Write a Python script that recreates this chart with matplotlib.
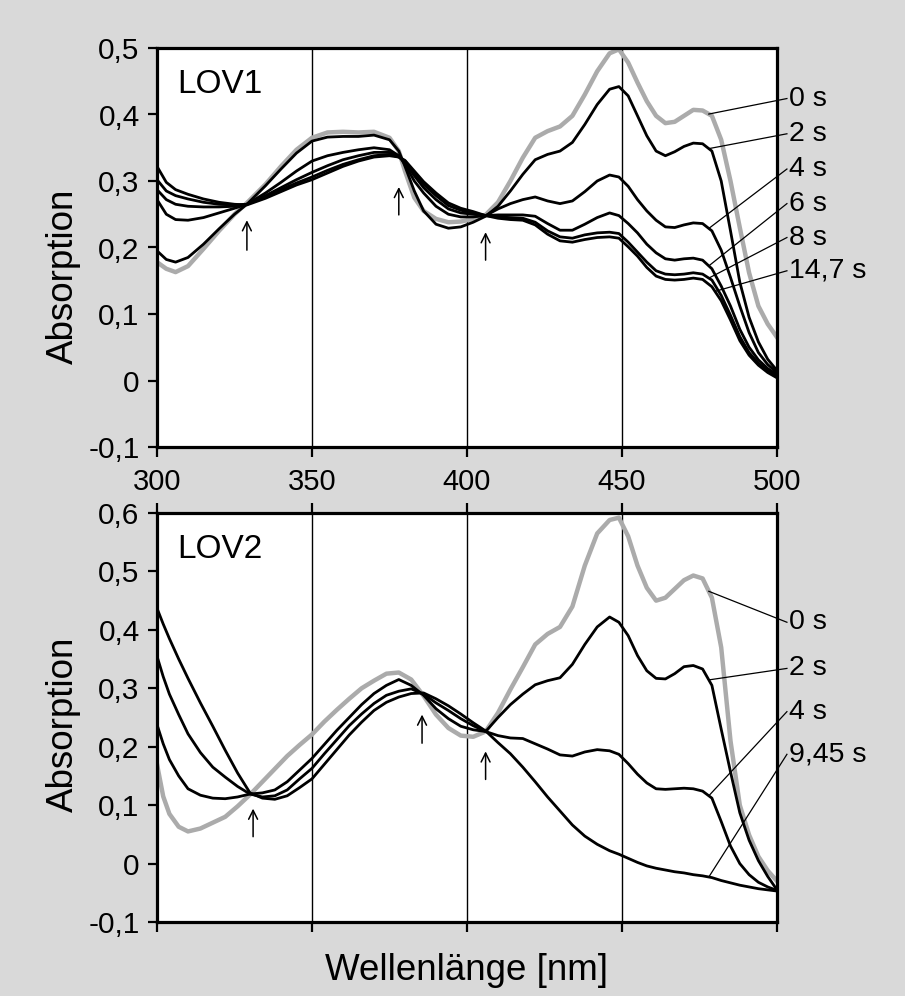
import matplotlib.pyplot as plt
import numpy as np

plt.rcParams['font.family'] = ['Liberation Sans', 'DejaVu Sans']

# ---------- LOV1 (oben) ----------
wl1 = [300, 303, 306, 310, 315, 320, 325, 329, 335, 340, 345, 350, 355, 360, 365,
       370, 375, 378, 380, 383, 386, 390, 394, 398, 402, 406, 410, 414, 418, 422,
       426, 430, 434, 438, 442, 446, 449, 452, 455, 458, 461, 464, 467, 470, 473,
       476, 479, 482, 485, 488, 491, 494, 497, 500]

lov1_0s = [0.178, 0.168, 0.163, 0.172, 0.198, 0.225, 0.250, 0.267, 0.295, 0.322,
           0.347, 0.365, 0.373, 0.374, 0.373, 0.374, 0.365, 0.345, 0.315, 0.275,
           0.255, 0.243, 0.238, 0.239, 0.243, 0.249, 0.268, 0.300, 0.335, 0.365,
           0.375, 0.382, 0.398, 0.430, 0.465, 0.492, 0.498, 0.478, 0.448, 0.420,
           0.398, 0.387, 0.389, 0.398, 0.407, 0.406, 0.398, 0.362, 0.300, 0.230,
           0.162, 0.112, 0.085, 0.065]
lov1_2s = [0.195, 0.182, 0.178, 0.185, 0.205, 0.228, 0.250, 0.265, 0.293, 0.318,
           0.342, 0.360, 0.366, 0.367, 0.367, 0.369, 0.362, 0.345, 0.322, 0.285,
           0.255, 0.235, 0.229, 0.231, 0.238, 0.247, 0.262, 0.285, 0.310, 0.332,
           0.340, 0.345, 0.358, 0.385, 0.415, 0.438, 0.442, 0.428, 0.398, 0.368,
           0.345, 0.338, 0.344, 0.352, 0.357, 0.356, 0.345, 0.300, 0.225, 0.148,
           0.095, 0.058, 0.032, 0.015]
lov1_4s = [0.272, 0.250, 0.242, 0.241, 0.245, 0.252, 0.259, 0.265, 0.282, 0.298,
           0.315, 0.330, 0.338, 0.343, 0.347, 0.350, 0.347, 0.338, 0.325, 0.300,
           0.282, 0.262, 0.250, 0.246, 0.246, 0.248, 0.258, 0.266, 0.272, 0.276,
           0.270, 0.266, 0.270, 0.284, 0.300, 0.309, 0.306, 0.292, 0.272, 0.255,
           0.241, 0.231, 0.230, 0.234, 0.237, 0.236, 0.225, 0.196, 0.155, 0.112,
           0.072, 0.042, 0.024, 0.012]
lov1_6s = [0.287, 0.272, 0.265, 0.262, 0.261, 0.261, 0.262, 0.265, 0.278, 0.290,
           0.302, 0.313, 0.323, 0.332, 0.338, 0.343, 0.343, 0.337, 0.328, 0.308,
           0.290, 0.272, 0.258, 0.252, 0.250, 0.248, 0.249, 0.249, 0.249, 0.247,
           0.236, 0.226, 0.226, 0.235, 0.245, 0.252, 0.248, 0.236, 0.222, 0.205,
           0.192, 0.183, 0.181, 0.183, 0.184, 0.181, 0.168, 0.142, 0.112, 0.077,
           0.050, 0.031, 0.018, 0.009]
lov1_8s = [0.302, 0.285, 0.278, 0.273, 0.268, 0.265, 0.264, 0.265, 0.276, 0.287,
           0.297, 0.306, 0.316, 0.325, 0.332, 0.338, 0.340, 0.336, 0.330, 0.312,
           0.295, 0.278, 0.263, 0.256, 0.252, 0.248, 0.246, 0.245, 0.244, 0.238,
           0.225, 0.216, 0.214, 0.219, 0.222, 0.223, 0.221, 0.208, 0.193, 0.178,
           0.165, 0.160, 0.159, 0.160, 0.162, 0.160, 0.151, 0.128, 0.098, 0.066,
           0.042, 0.026, 0.015, 0.007]
lov1_14s = [0.322, 0.298, 0.287, 0.280, 0.273, 0.268, 0.265, 0.264, 0.274, 0.284,
            0.294, 0.302, 0.312, 0.322, 0.330, 0.336, 0.338, 0.336, 0.331, 0.315,
            0.299, 0.282, 0.267, 0.259, 0.254, 0.248, 0.244, 0.242, 0.241, 0.234,
            0.220, 0.210, 0.208, 0.212, 0.215, 0.216, 0.214, 0.201, 0.187, 0.170,
            0.157, 0.152, 0.151, 0.152, 0.154, 0.152, 0.141, 0.120, 0.091, 0.060,
            0.038, 0.023, 0.012, 0.004]

lov1_series = [lov1_0s, lov1_2s, lov1_4s, lov1_6s, lov1_8s, lov1_14s]
lov1_labels = ['0 s', '2 s', '4 s', '6 s', '8 s', '14,7 s']
lov1_label_y = [0.424, 0.371, 0.318, 0.266, 0.215, 0.165]
lov1_leader_x = [478, 478, 478, 478, 478, 480]
lov1_arrows = [(329, 0.196, 0.241), (378, 0.249, 0.291), (406, 0.181, 0.223)]

# ---------- LOV2 (unten) ----------
wl2 = [300, 302, 304, 307, 310, 314, 318, 322, 326, 330, 334, 338, 342, 346, 350,
       354, 358, 362, 366, 370, 374, 378, 382, 386, 390, 394, 398, 402, 406, 410,
       414, 418, 422, 426, 430, 434, 438, 442, 446, 449, 452, 455, 458, 461, 464,
       467, 470, 473, 476, 479, 482, 485, 488, 491, 494, 497, 500]

lov2_0s = [0.170, 0.115, 0.085, 0.063, 0.055, 0.060, 0.070, 0.080, 0.098, 0.118,
           0.140, 0.162, 0.184, 0.203, 0.221, 0.243, 0.263, 0.282, 0.300, 0.313,
           0.325, 0.327, 0.315, 0.287, 0.255, 0.232, 0.219, 0.217, 0.226, 0.258,
           0.298, 0.336, 0.375, 0.393, 0.405, 0.440, 0.510, 0.565, 0.588, 0.592,
           0.560, 0.510, 0.472, 0.450, 0.455, 0.470, 0.485, 0.493, 0.488, 0.455,
           0.370, 0.210, 0.100, 0.049, 0.012, -0.012, -0.030]
lov2_2s = [0.238, 0.205, 0.178, 0.150, 0.128, 0.117, 0.112, 0.111, 0.114, 0.119,
           0.121, 0.126, 0.140, 0.160, 0.180, 0.204, 0.228, 0.250, 0.272, 0.291,
           0.305, 0.315, 0.305, 0.288, 0.265, 0.248, 0.235, 0.229, 0.226, 0.250,
           0.272, 0.290, 0.306, 0.313, 0.318, 0.341, 0.375, 0.405, 0.422, 0.413,
           0.390, 0.356, 0.330, 0.317, 0.316, 0.325, 0.337, 0.339, 0.333, 0.305,
           0.230, 0.157, 0.087, 0.040, 0.005, -0.022, -0.045]
lov2_4s = [0.355, 0.320, 0.290, 0.255, 0.222, 0.190, 0.165, 0.148, 0.132, 0.119,
           0.114, 0.116, 0.126, 0.145, 0.163, 0.188, 0.212, 0.236, 0.256, 0.274,
           0.288, 0.295, 0.299, 0.290, 0.275, 0.262, 0.248, 0.236, 0.226, 0.219,
           0.215, 0.214, 0.205, 0.196, 0.186, 0.184, 0.191, 0.195, 0.193, 0.187,
           0.171, 0.153, 0.138, 0.128, 0.127, 0.128, 0.129, 0.128, 0.124, 0.112,
           0.072, 0.030, 0.000, -0.019, -0.032, -0.040, -0.046]
lov2_9s = [0.437, 0.410, 0.385, 0.350, 0.317, 0.275, 0.235, 0.194, 0.155, 0.121,
           0.112, 0.110, 0.116, 0.130, 0.145, 0.170, 0.195, 0.220, 0.242, 0.262,
           0.276, 0.285, 0.291, 0.292, 0.282, 0.270, 0.256, 0.241, 0.227, 0.207,
           0.188, 0.165, 0.140, 0.114, 0.090, 0.066, 0.047, 0.033, 0.022, 0.016,
           0.009, 0.002, -0.004, -0.008, -0.011, -0.014, -0.016, -0.019, -0.021,
           -0.024, -0.029, -0.033, -0.037, -0.040, -0.043, -0.045, -0.047]

lov2_series = [lov2_0s, lov2_2s, lov2_4s, lov2_9s]
lov2_labels = ['0 s', '2 s', '4 s', '9,45 s']
lov2_label_y = [0.413, 0.334, 0.260, 0.187]
lov2_leader_x = [478, 478, 478, 478]
lov2_arrows = [(331, 0.046, 0.094), (385.5, 0.206, 0.255), (406, 0.144, 0.192)]

xticks = [300, 350, 400, 450, 500]
lov1_yticks = [-0.1, 0, 0.1, 0.2, 0.3, 0.4, 0.5]
lov1_yticklabels = ['-0,1', '0', '0,1', '0,2', '0,3', '0,4', '0,5']
lov2_yticks = [-0.1, 0, 0.1, 0.2, 0.3, 0.4, 0.5, 0.6]
lov2_yticklabels = ['-0,1', '0', '0,1', '0,2', '0,3', '0,4', '0,5', '0,6']

GRAY = '#ababab'
BG = '#d9d9d9'

fig = plt.figure(figsize=(9.05, 9.96), dpi=100, facecolor=BG)
ax1 = fig.add_axes([157/905, 1-447/996, 620/905, 399/996])
ax2 = fig.add_axes([157/905, 1-922/996, 620/905, 409/996])


def draw_panel(ax, wl, series, labels, label_y, leader_x, arrows, yticks, yticklabels, name):
    for x in [350, 400, 450]:
        ax.axvline(x, color='black', lw=1.0, zorder=1)
    for i, ys in enumerate(series):
        if i == 0:
            ax.plot(wl, ys, color=GRAY, lw=3.2, zorder=2)
        else:
            ax.plot(wl, ys, color='black', lw=2.0, zorder=3)
    for x0, lab, ty in zip(leader_x, labels, label_y):
        y0 = np.interp(x0, wl, series[labels.index(lab)])
        ax.plot([x0, 503.2], [y0, ty], color='black', lw=0.9, clip_on=False, zorder=4)
        ax.text(503.9, ty, lab, fontsize=20.5, ha='left', va='center', clip_on=False)
    for ax_x, tail, head in arrows:
        ax.annotate('', xy=(ax_x, head), xytext=(ax_x, tail),
                    arrowprops=dict(arrowstyle='->', lw=1.1, color='black',
                                    mutation_scale=16, shrinkA=0, shrinkB=0))
    ax.text(0.032, 1 - 45/399 if name == 'LOV1' else 1 - 45/409, name,
            transform=ax.transAxes, fontsize=24, ha='left', va='baseline')
    ax.set_xlim(300, 500)
    ax.set_ylim(yticks[0], yticks[-1])
    ax.set_xticks(xticks)
    ax.set_yticks(yticks)
    ax.set_yticklabels(yticklabels)
    ax.set_facecolor('white')
    for s in ax.spines.values():
        s.set_linewidth(2.3)
    ax.tick_params(axis='y', direction='out', length=6.5, width=1.6, labelsize=21.5, pad=6)
    ax.tick_params(axis='x', direction='out', length=7, width=1.6, labelsize=21, pad=8)


draw_panel(ax1, wl1, lov1_series, lov1_labels, lov1_label_y, lov1_leader_x,
           lov1_arrows, lov1_yticks, lov1_yticklabels, 'LOV1')
draw_panel(ax2, wl2, lov2_series, lov2_labels, lov2_label_y, lov2_leader_x,
           lov2_arrows, lov2_yticks, lov2_yticklabels, 'LOV2')

ax2.tick_params(axis='x', top=True, labelbottom=False)

fig.text(63/905, 1-276/996, 'Absorption', rotation=90, fontsize=26.5, ha='center', va='center')
fig.text(63/905, 1-724/996, 'Absorption', rotation=90, fontsize=26.5, ha='center', va='center')
fig.text(466/905, 1-970/996, 'Wellenlänge [nm]', fontsize=26.5, ha='center', va='center')

fig.savefig('out.png', dpi=100, facecolor=BG)
